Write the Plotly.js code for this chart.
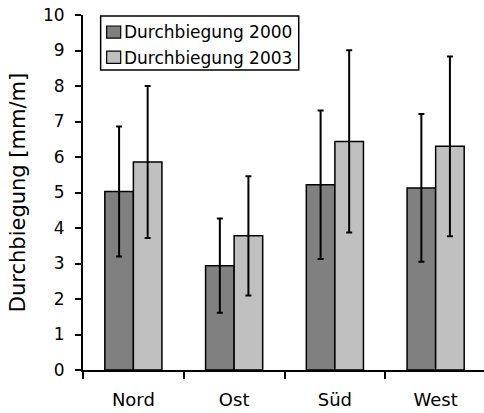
<!DOCTYPE html>
<html>
<head>
<meta charset="utf-8">
<script src="https://cdn.plot.ly/plotly-3.0.1.min.js"></script>
<style>html,body{margin:0;padding:0;background:#fff;}#chart{width:484px;height:413px;}</style>
</head>
<body>
<div id="chart"></div>
<script>
const categories = ['Nord', 'Ost', 'Süd', 'West'];
const seriesNames = ['Durchbiegung 2000', 'Durchbiegung 2003'];
const seriesColors = ['#808080', '#c0c0c0'];
const values2000 = [5.03, 2.94, 5.22, 5.13];
const errors2000 = [1.83, 1.33, 2.09, 2.08];
const values2003 = [5.86, 3.78, 6.44, 6.30];
const errors2003 = [2.14, 1.68, 2.57, 2.53];
const yTicks = [0, 1, 2, 3, 4, 5, 6, 7, 8, 9, 10];

const FONT = 'DejaVu Sans, Arial, sans-serif';

function barTrace(name, vals, errs, color) {
  return {
    type: 'bar', name: name, x: categories, y: vals,
    marker: {color: color, line: {color: '#000', width: 1.5}},
    error_y: {type: 'data', array: errs, visible: true, color: '#000', thickness: 2, width: 3},
    hoverinfo: 'skip', showlegend: false
  };
}

const data = [
  barTrace(seriesNames[0], values2000, errors2000, seriesColors[0]),
  barTrace(seriesNames[1], values2003, errors2003, seriesColors[1])
];

// Legend drawn as a framed box with swatches and text (paper coordinates)
const legBox = {x0: 0.044, x1: 0.538, y0: 0.845, y1: 0.997};
const legRows = [
  {sy0: 0.935, sy1: 0.969, ty: 0.953},
  {sy0: 0.864, sy1: 0.898, ty: 0.880}
];
const shapes = [{
  type: 'rect', xref: 'paper', yref: 'paper',
  x0: legBox.x0, x1: legBox.x1, y0: legBox.y0, y1: legBox.y1,
  line: {color: '#000', width: 1.5}, fillcolor: '#fff', layer: 'above'
}];
const annotations = [];
seriesNames.forEach(function (nm, i) {
  shapes.push({
    type: 'rect', xref: 'paper', yref: 'paper',
    x0: 0.059, x1: 0.094, y0: legRows[i].sy0, y1: legRows[i].sy1,
    line: {color: '#000', width: 1.2}, fillcolor: seriesColors[i], layer: 'above'
  });
  annotations.push({
    xref: 'paper', yref: 'paper', x: 0.098, y: legRows[i].ty,
    xanchor: 'left', yanchor: 'middle', showarrow: false,
    text: nm, font: {family: FONT, size: 17, color: '#000'}
  });
});

const layout = {
  width: 484, height: 413,
  margin: {l: 83, r: 0, t: 15, b: 43, pad: 0},
  paper_bgcolor: '#fff', plot_bgcolor: '#fff',
  font: {family: FONT, color: '#000', size: 17},
  barmode: 'group', bargap: 0.433, bargroupgap: 0,
  showlegend: false,
  shapes: shapes,
  annotations: annotations,
  xaxis: {
    type: 'category', range: [-0.5, 3.48],
    showline: true, linecolor: '#000', linewidth: 2,
    ticks: 'outside', tickson: 'boundaries', ticklen: 7, tickwidth: 2, tickcolor: '#000',
    tickfont: {family: FONT, size: 18, color: '#000'},
    ticklabelstandoff: 12,
    showgrid: false, zeroline: false, fixedrange: true
  },
  yaxis: {
    range: [0, 10], tickvals: yTicks, ticktext: yTicks.map(String),
    showline: true, linecolor: '#000', linewidth: 2,
    ticks: 'outside', ticklen: 6, tickwidth: 2, tickcolor: '#000',
    tickfont: {family: FONT, size: 17, color: '#000'},
    ticklabelstandoff: 7,
    showgrid: false, zeroline: false, fixedrange: true,
    title: {text: 'Durchbiegung [mm/m]', font: {family: FONT, size: 21, color: '#000'}, standoff: 12}
  }
};

Plotly.newPlot('chart', data, layout, {displayModeBar: false, staticPlot: true});
</script>
</body>
</html>
